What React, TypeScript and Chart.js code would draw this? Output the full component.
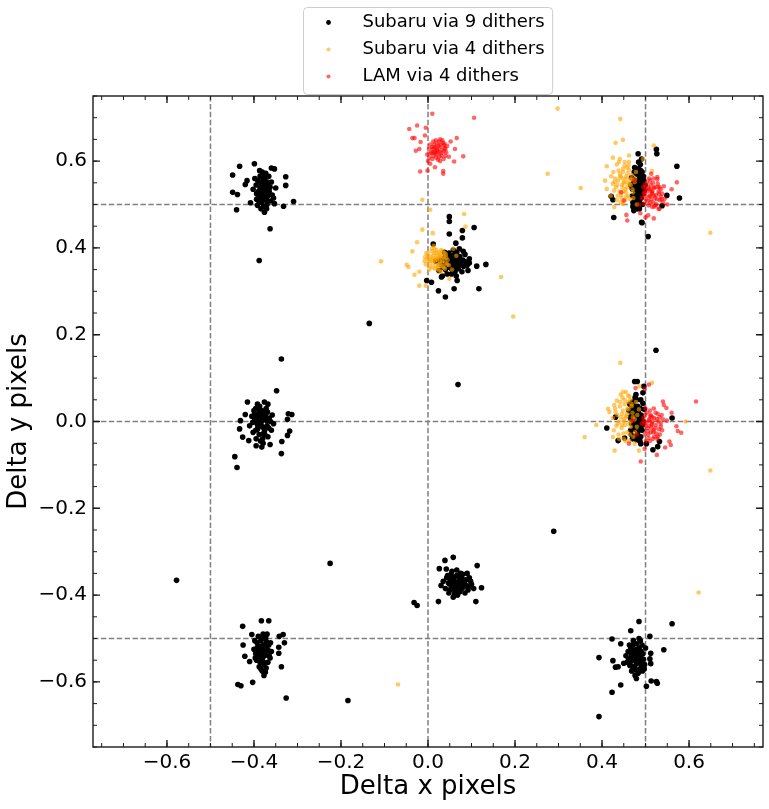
import React, { useEffect, useRef } from "react";
import { Chart, registerables } from "chart.js";

Chart.register(...registerables);

type Pt = [number, number];

// ---------- Subaru via 9 dithers (black) ----------
const s9TopLeft: Pt[] = [
  [-0.380,0.540],[-0.375,0.528],[-0.385,0.552],[-0.372,0.515],[-0.390,0.530],[-0.368,0.545],[-0.382,0.505],[-0.378,0.560],
  [-0.395,0.545],[-0.365,0.530],[-0.388,0.518],[-0.373,0.572],[-0.360,0.552],[-0.392,0.498],[-0.384,0.490],[-0.376,0.482],
  [-0.370,0.500],[-0.398,0.560],[-0.402,0.535],[-0.358,0.522],[-0.350,0.538],[-0.366,0.565],[-0.381,0.575],[-0.386,0.565],
  [-0.371,0.490],[-0.394,0.512],[-0.362,0.508],[-0.355,0.515],[-0.379,0.548],[-0.374,0.536],
  [-0.377,0.532],[-0.383,0.545],[-0.371,0.525],[-0.379,0.512],[-0.386,0.538],[-0.369,0.552],[-0.374,0.562],[-0.389,0.508],
  [-0.381,0.522],[-0.376,0.548],[-0.363,0.540],[-0.391,0.555],[-0.384,0.528],[-0.370,0.508],[-0.378,0.495],[-0.387,0.578],
  [-0.373,0.544],[-0.380,0.566],[-0.368,0.520],[-0.394,0.525],
  [-0.449,0.568],[-0.433,0.588],[-0.399,0.594],[-0.360,0.584],[-0.353,0.582],[-0.327,0.564],[-0.327,0.544],[-0.309,0.507],
  [-0.332,0.496],[-0.353,0.502],[-0.408,0.504],[-0.440,0.488],[-0.449,0.528],[-0.438,0.523],[-0.416,0.555],[-0.420,0.546],
  [-0.363,0.444],[-0.388,0.371],
];
const s9TopMid: Pt[] = [
  [0.050,0.365],[0.060,0.372],[0.042,0.358],[0.068,0.380],[0.055,0.350],[0.035,0.375],[0.075,0.362],[0.048,0.388],
  [0.062,0.345],[0.080,0.372],[0.030,0.362],[0.058,0.395],[0.070,0.352],[0.044,0.340],[0.085,0.385],[0.025,0.348],
  [0.065,0.335],[0.052,0.378],[0.038,0.390],[0.090,0.360],[0.072,0.398],[0.018,0.370],[0.058,0.360],[0.046,0.372],
  [0.078,0.345],[0.033,0.335],[0.095,0.375],[0.062,0.385],[0.040,0.350],[0.068,0.365],
  [0.053,0.368],[0.047,0.378],[0.064,0.358],[0.057,0.382],[0.070,0.372],[0.043,0.365],[0.061,0.350],[0.050,0.355],
  [0.076,0.368],[0.039,0.378],[0.066,0.390],[0.054,0.340],[0.082,0.358],[0.036,0.355],[0.059,0.375],[0.073,0.380],
  [0.045,0.385],[0.087,0.368],[0.028,0.372],[0.063,0.368],
  [0.049,0.472],[0.049,0.461],[0.049,0.432],[0.079,0.440],[0.106,0.447],[0.079,0.423],[0.064,0.411],[0.012,0.409],
  [0.081,0.392],[0.095,0.365],[0.112,0.358],[0.133,0.362],[0.117,0.306],[0.060,0.306],[0.040,0.287],[0.024,0.301],
  [0.067,0.325],[0.031,0.333],[0.008,0.321],[-0.003,0.325],[0.092,0.348],
];
const s9TopRight: Pt[] = [
  [0.483,0.540],[0.478,0.555],[0.488,0.528],[0.475,0.520],[0.492,0.548],[0.480,0.570],[0.470,0.535],[0.486,0.505],
  [0.495,0.565],[0.473,0.550],[0.490,0.515],[0.478,0.498],[0.484,0.582],[0.468,0.562],[0.497,0.532],[0.476,0.510],
  [0.489,0.578],[0.481,0.490],[0.471,0.505],[0.493,0.500],[0.479,0.528],[0.486,0.560],[0.474,0.575],[0.499,0.545],
  [0.466,0.545],[0.482,0.515],[0.488,0.592],[0.477,0.540],[0.491,0.535],[0.470,0.520],
  [0.482,0.545],[0.476,0.532],[0.487,0.552],[0.480,0.522],[0.472,0.558],[0.490,0.540],[0.485,0.568],[0.478,0.508],
  [0.494,0.525],[0.469,0.540],[0.483,0.500],[0.488,0.515],[0.475,0.585],[0.492,0.575],[0.480,0.552],[0.486,0.530],
  [0.471,0.495],[0.496,0.555],[0.478,0.538],[0.484,0.598],
  [0.483,0.617],[0.491,0.605],[0.525,0.627],[0.526,0.617],[0.572,0.588],[0.578,0.515],[0.549,0.521],[0.538,0.497],
  [0.427,0.470],[0.473,0.486],[0.486,0.490],[0.491,0.459],[0.421,0.519],[0.425,0.511],[0.506,0.426],[0.492,0.458],
];
const s9MidLeft: Pt[] = [
  [-0.385,-0.005],[-0.378,0.010],[-0.392,-0.018],[-0.370,-0.010],[-0.398,0.005],[-0.382,0.025],[-0.375,-0.030],[-0.390,0.018],
  [-0.365,0.008],[-0.402,-0.025],[-0.380,-0.040],[-0.372,0.030],[-0.395,-0.040],[-0.360,-0.020],[-0.387,0.035],[-0.368,-0.035],
  [-0.405,0.012],[-0.377,-0.015],[-0.393,-0.005],[-0.383,0.000],[-0.358,0.015],[-0.388,-0.030],[-0.373,0.020],[-0.400,0.025],
  [-0.410,-0.010],[-0.355,-0.005],[-0.379,-0.050],[-0.396,0.030],[-0.368,0.040],[-0.386,0.012],
  [-0.384,-0.008],[-0.380,0.005],[-0.389,0.010],[-0.376,-0.022],[-0.391,-0.012],[-0.371,0.002],[-0.382,0.018],[-0.396,-0.020],
  [-0.378,-0.028],[-0.387,0.025],[-0.366,-0.015],[-0.399,0.015],[-0.374,0.012],[-0.385,-0.045],[-0.392,0.040],[-0.369,0.022],
  [-0.381,-0.012],[-0.403,-0.002],[-0.362,0.000],[-0.388,0.002],
  [-0.415,0.045],[-0.376,0.045],[-0.321,0.018],[-0.313,0.016],[-0.323,0.005],[-0.433,-0.017],[-0.426,-0.036],[-0.412,-0.044],
  [-0.395,-0.056],[-0.382,-0.059],[-0.363,-0.053],[-0.336,-0.046],[-0.323,-0.032],[-0.318,-0.022],[-0.337,-0.074],[-0.431,0.002],
  [-0.420,0.016],[-0.444,-0.081],[-0.439,-0.106],[-0.337,0.144],[-0.348,0.071],
];
const s9MidRight: Pt[] = [
  [0.478,0.005],[0.472,0.020],[0.485,-0.010],[0.468,-0.005],[0.490,0.015],[0.475,0.035],[0.482,-0.025],[0.465,0.010],
  [0.495,0.000],[0.470,0.045],[0.488,0.030],[0.476,-0.035],[0.462,0.025],[0.492,-0.020],[0.480,0.050],[0.473,-0.018],
  [0.486,0.008],[0.467,-0.030],[0.497,0.028],[0.479,-0.042],[0.483,0.022],[0.471,0.002],[0.489,-0.035],[0.476,0.055],
  [0.464,0.040],[0.494,0.042],[0.481,-0.005],[0.469,0.030],[0.487,-0.045],[0.477,0.015],
  [0.479,0.008],[0.474,-0.002],[0.483,0.015],[0.470,0.018],[0.487,-0.015],[0.476,0.028],[0.481,-0.030],[0.467,0.005],
  [0.491,0.008],[0.473,0.040],[0.484,-0.040],[0.478,0.062],[0.466,-0.020],[0.489,0.050],[0.475,-0.012],[0.482,0.035],
  [0.470,-0.040],[0.493,-0.008],[0.477,0.022],[0.485,0.000],
  [0.475,0.092],[0.481,0.092],[0.496,0.081],[0.494,0.066],[0.561,0.008],[0.411,-0.015],[0.431,0.010],[0.437,-0.044],
  [0.452,-0.038],[0.502,-0.051],[0.528,-0.058],[0.517,-0.065],[0.532,-0.046],[0.489,-0.051],[0.524,0.164],
];
const s9BotLeft: Pt[] = [
  [-0.380,-0.530],[-0.375,-0.515],[-0.386,-0.545],[-0.370,-0.525],[-0.392,-0.520],[-0.378,-0.555],[-0.384,-0.505],[-0.365,-0.540],
  [-0.396,-0.535],[-0.373,-0.500],[-0.388,-0.565],[-0.362,-0.510],[-0.381,-0.575],[-0.398,-0.505],[-0.376,-0.540],[-0.368,-0.555],
  [-0.390,-0.495],[-0.383,-0.522],[-0.372,-0.568],[-0.394,-0.550],[-0.360,-0.530],[-0.379,-0.490],[-0.387,-0.535],[-0.366,-0.515],
  [-0.400,-0.525],[-0.377,-0.585],
  [-0.379,-0.528],[-0.374,-0.538],[-0.385,-0.518],[-0.382,-0.550],[-0.371,-0.508],[-0.389,-0.540],[-0.377,-0.560],[-0.367,-0.528],
  [-0.393,-0.510],[-0.381,-0.500],[-0.374,-0.578],[-0.386,-0.555],[-0.363,-0.545],[-0.397,-0.545],[-0.378,-0.515],[-0.384,-0.570],
  [-0.370,-0.490],[-0.391,-0.528],[-0.376,-0.532],[-0.380,-0.545],
  [-0.383,-0.459],[-0.366,-0.459],[-0.426,-0.472],[-0.405,-0.491],[-0.425,-0.515],[-0.421,-0.541],[-0.410,-0.553],[-0.342,-0.495],
  [-0.333,-0.491],[-0.343,-0.520],[-0.343,-0.534],[-0.330,-0.510],[-0.337,-0.565],[-0.437,-0.606],[-0.430,-0.609],[-0.403,-0.601],
  [-0.326,-0.637],[-0.374,-0.576],
];
const s9BotMid: Pt[] = [
  [0.065,-0.370],[0.058,-0.360],[0.072,-0.382],[0.050,-0.375],[0.080,-0.365],[0.045,-0.355],[0.088,-0.378],[0.062,-0.392],
  [0.075,-0.350],[0.040,-0.385],[0.095,-0.360],[0.055,-0.345],[0.068,-0.400],[0.085,-0.395],[0.035,-0.368],[0.100,-0.375],
  [0.060,-0.380],[0.078,-0.385],[0.048,-0.395],[0.070,-0.358],[0.090,-0.350],[0.052,-0.365],[0.083,-0.372],[0.042,-0.340],
  [0.105,-0.385],[0.066,-0.342],[0.058,-0.405],[0.076,-0.375],[0.030,-0.378],[0.092,-0.388],
  [0.064,-0.372],[0.059,-0.365],[0.070,-0.378],[0.055,-0.385],[0.077,-0.360],[0.047,-0.372],[0.082,-0.380],[0.066,-0.355],
  [0.053,-0.352],[0.087,-0.365],[0.061,-0.398],[0.073,-0.392],[0.043,-0.360],[0.094,-0.380],[0.068,-0.385],[0.057,-0.375],
  [0.080,-0.352],[0.050,-0.388],[0.098,-0.368],[0.072,-0.368],
  [0.039,-0.320],[0.058,-0.313],[0.113,-0.332],[0.123,-0.383],[0.110,-0.415],[0.024,-0.415],[0.026,-0.339],
];
const s9BotRight: Pt[] = [
  [0.477,-0.540],[0.470,-0.525],[0.484,-0.552],[0.465,-0.545],[0.490,-0.530],[0.475,-0.565],[0.480,-0.512],[0.460,-0.530],
  [0.495,-0.548],[0.472,-0.505],[0.487,-0.570],[0.458,-0.555],[0.482,-0.535],[0.468,-0.575],[0.492,-0.515],[0.476,-0.585],
  [0.498,-0.560],[0.463,-0.515],[0.485,-0.500],[0.473,-0.548],[0.489,-0.542],[0.455,-0.540],[0.479,-0.558],[0.493,-0.575],
  [0.467,-0.535],[0.500,-0.522],
  [0.478,-0.538],[0.473,-0.530],[0.482,-0.548],[0.468,-0.552],[0.486,-0.522],[0.476,-0.572],[0.471,-0.515],[0.490,-0.560],
  [0.480,-0.525],[0.464,-0.562],[0.488,-0.505],[0.474,-0.545],[0.483,-0.580],[0.466,-0.522],[0.494,-0.535],[0.479,-0.592],
  [0.470,-0.565],[0.461,-0.548],[0.486,-0.555],[0.497,-0.570],
  [0.485,-0.461],[0.466,-0.482],[0.561,-0.466],[0.423,-0.501],[0.510,-0.495],[0.443,-0.512],[0.542,-0.526],[0.393,-0.544],
  [0.425,-0.551],[0.431,-0.566],[0.437,-0.565],[0.450,-0.557],[0.512,-0.534],[0.510,-0.547],[0.512,-0.558],[0.513,-0.598],
  [0.527,-0.603],[0.525,-0.599],[0.502,-0.610],[0.443,-0.607],[0.423,-0.624],[0.393,-0.680],
];
const s9Strays: Pt[] = [
  [0.069,0.085],[-0.135,0.226],[0.289,-0.253],[-0.225,-0.327],[-0.578,-0.366],[-0.184,-0.643],[-0.032,-0.417],[-0.025,-0.424],
];

// ---------- Subaru via 4 dithers (orange) ----------
const s4TopMid: Pt[] = [
  [0.020,0.375],[0.012,0.382],[0.028,0.368],[0.005,0.370],[0.035,0.380],[0.018,0.360],[0.025,0.390],[0.000,0.385],
  [0.040,0.365],[0.010,0.355],[0.030,0.395],[0.015,0.398],[0.042,0.378],[-0.005,0.362],[0.022,0.352],[0.033,0.358],
  [0.008,0.392],[0.026,0.378],[0.016,0.370],[0.038,0.388],[-0.002,0.375],[0.045,0.372],[0.003,0.350],[0.030,0.345],
  [0.013,0.405],[0.024,0.362],[0.036,0.355],[0.006,0.380],[0.019,0.388],[0.048,0.360],
  [0.021,0.372],[0.017,0.378],[0.027,0.385],[0.011,0.365],[0.032,0.370],[0.014,0.388],[0.023,0.358],[0.007,0.375],
  [0.037,0.375],[0.029,0.362],[0.019,0.395],[0.004,0.358],[0.041,0.385],[0.025,0.348],[-0.004,0.388],[0.016,0.352],
  [0.034,0.392],[0.009,0.398],[0.044,0.362],[0.002,0.368],[0.028,0.378],[0.013,0.372],[0.022,0.382],[0.039,0.352],
  [-0.008,0.370],
  [-0.013,0.442],[0.011,0.434],[-0.025,0.413],[-0.036,0.392],[-0.049,0.361],[-0.045,0.356],[-0.031,0.338],[-0.020,0.313],
  [-0.005,0.313],[0.049,0.329],[0.030,0.382],[-0.007,0.379],[-0.108,0.369],[0.196,0.242],[0.168,0.333],[-0.013,0.511],
  [0.005,0.488],[0.083,0.478],[0.086,0.449],[-0.020,0.345],[0.058,0.398],[0.065,0.382],[0.055,0.350],
];
const s4TopRight: Pt[] = [
  [0.450,0.550],[0.442,0.562],[0.458,0.540],[0.435,0.545],[0.465,0.558],[0.448,0.575],[0.455,0.528],[0.430,0.560],
  [0.470,0.535],[0.440,0.530],[0.462,0.580],[0.452,0.590],[0.425,0.548],[0.475,0.552],[0.445,0.515],[0.460,0.520],
  [0.438,0.578],[0.468,0.568],[0.428,0.532],[0.456,0.565],[0.447,0.540],[0.434,0.592],[0.472,0.515],[0.443,0.505],
  [0.462,0.598],[0.421,0.565],[0.453,0.510],[0.478,0.575],[0.436,0.520],[0.466,0.545],[0.449,0.560],[0.457,0.585],
  [0.451,0.552],[0.446,0.545],[0.457,0.560],[0.441,0.570],[0.463,0.548],[0.437,0.555],[0.454,0.535],[0.448,0.582],
  [0.468,0.558],[0.432,0.540],[0.459,0.572],[0.444,0.522],[0.471,0.528],[0.426,0.575],[0.452,0.598],[0.439,0.598],
  [0.464,0.512],[0.449,0.530],[0.476,0.560],[0.434,0.510],[0.458,0.550],[0.443,0.565],[0.461,0.590],[0.429,0.552],
  [0.455,0.518],
  [0.431,0.642],[0.448,0.649],[0.462,0.613],[0.441,0.605],[0.425,0.608],[0.411,0.588],[0.407,0.555],[0.411,0.536],
  [0.428,0.494],[0.448,0.501],[0.494,0.605],[0.515,0.577],[0.519,0.636],[0.442,0.697],[0.351,0.538],[0.649,0.435],
  [0.298,0.721],[0.275,0.571],[0.480,0.500],[0.420,0.520],
];
const s4MidRight: Pt[] = [
  [0.455,0.010],[0.448,0.025],[0.462,-0.005],[0.440,0.000],[0.470,0.020],[0.452,0.040],[0.458,-0.025],[0.435,0.015],
  [0.475,0.005],[0.445,-0.015],[0.465,0.050],[0.430,0.030],[0.480,-0.012],[0.450,-0.040],[0.468,0.035],[0.438,-0.030],
  [0.460,0.060],[0.425,0.008],[0.485,0.028],[0.447,0.055],[0.472,-0.035],[0.442,0.045],[0.457,0.018],[0.433,-0.010],
  [0.466,0.000],[0.453,-0.008],[0.428,0.038],[0.478,0.045],[0.444,0.010],[0.463,-0.045],
  [0.456,0.012],[0.451,0.000],[0.461,0.028],[0.446,0.018],[0.466,-0.012],[0.441,0.035],[0.459,0.045],[0.449,-0.028],
  [0.471,0.010],[0.436,-0.005],[0.463,0.058],[0.454,-0.045],[0.443,0.062],[0.476,-0.025],[0.431,0.022],[0.468,0.040],
  [0.446,-0.008],[0.458,0.030],[0.427,-0.020],[0.481,0.015],[0.452,0.050],[0.439,-0.040],[0.464,-0.030],[0.434,0.048],
  [0.450,0.005],
  [0.448,0.068],[0.455,0.068],[0.414,0.029],[0.417,0.022],[0.425,-0.036],[0.429,-0.067],[0.485,-0.067],[0.475,-0.051],
  [0.387,-0.008],[0.515,0.089],[0.486,0.081],[0.442,0.135],[0.360,-0.036],[0.649,-0.113],[0.592,0.000],
];
const s4Strays: Pt[] = [[0.622,-0.394],[-0.069,-0.606]];

// ---------- LAM via 4 dithers (red) ----------
const lamTopMid: Pt[] = [
  [0.022,0.624],[0.015,0.632],[0.030,0.618],[0.008,0.620],[0.038,0.630],[0.020,0.640],[0.026,0.610],[0.002,0.628],
  [0.034,0.642],[0.012,0.612],[0.042,0.620],[0.018,0.648],[0.028,0.600],[0.005,0.638],[0.036,0.605],[0.024,0.635],
  [0.010,0.605],[0.040,0.612],[0.016,0.622],[0.032,0.626],[-0.002,0.615],[0.044,0.635],[0.020,0.615],[0.028,0.650],
  [0.012,0.645],[0.000,0.600],
  [0.021,0.626],[0.017,0.618],[0.027,0.632],[0.011,0.628],[0.031,0.612],[0.019,0.608],[0.025,0.645],[0.006,0.618],
  [0.036,0.622],[0.014,0.638],[0.029,0.638],[0.023,0.603],[0.003,0.608],[0.040,0.628],[0.013,0.620],[0.033,0.648],
  [0.009,0.632],[0.026,0.620],[0.018,0.630],[0.038,0.640],
  [0.010,0.709],[0.106,0.700],[-0.025,0.682],[-0.005,0.677],[-0.043,0.674],[-0.036,0.653],[-0.031,0.653],[-0.007,0.659],
  [-0.017,0.644],[-0.028,0.624],[-0.020,0.628],[0.066,0.653],[0.062,0.628],[0.081,0.611],[0.060,0.599],[0.037,0.636],
  [0.035,0.577],[0.035,0.571],[0.016,0.586],[-0.001,0.578],[-0.018,0.576],[0.005,0.594],[0.052,0.645],[0.048,0.610],
];
const lamTopRight: Pt[] = [
  [0.515,0.525],[0.508,0.535],[0.522,0.515],[0.500,0.520],[0.530,0.530],[0.512,0.545],[0.518,0.505],[0.495,0.540],
  [0.528,0.548],[0.505,0.508],[0.535,0.518],[0.510,0.555],[0.520,0.495],[0.498,0.528],[0.532,0.540],[0.525,0.500],
  [0.503,0.550],[0.538,0.525],[0.513,0.512],[0.520,0.538],[0.492,0.515],[0.527,0.558],[0.507,0.498],[0.516,0.530],
  [0.540,0.505],[0.497,0.502],[0.524,0.522],[0.510,0.520],[0.533,0.510],[0.502,0.535],[0.518,0.560],[0.530,0.490],
  [0.514,0.528],[0.509,0.518],[0.520,0.540],[0.504,0.530],[0.526,0.512],[0.511,0.505],[0.517,0.550],[0.499,0.545],
  [0.531,0.525],[0.506,0.540],[0.523,0.498],[0.512,0.535],[0.535,0.535],[0.501,0.512],[0.519,0.520],[0.528,0.540],
  [0.496,0.525],[0.515,0.495],[0.537,0.512],[0.508,0.560],
  [0.572,0.551],[0.527,0.563],[0.542,0.542],[0.456,0.476],[0.458,0.463],[0.506,0.475],[0.519,0.468],[0.513,0.571],
  [0.475,0.555],[0.444,0.528],[0.450,0.509],[0.532,0.490],[0.544,0.513],[0.560,0.535],[0.488,0.480],[0.500,0.470],
  [0.485,0.500],[0.550,0.500],
];
const lamMidRight: Pt[] = [
  [0.515,-0.005],[0.508,0.005],[0.522,-0.015],[0.500,-0.010],[0.530,0.000],[0.512,0.015],[0.518,-0.025],[0.495,0.008],
  [0.528,0.018],[0.505,-0.022],[0.535,-0.012],[0.510,0.025],[0.520,-0.035],[0.498,-0.030],[0.532,0.010],[0.525,-0.028],
  [0.503,0.020],[0.538,-0.020],[0.513,-0.015],[0.520,0.008],[0.492,-0.005],[0.527,-0.040],[0.507,-0.038],[0.516,0.000],
  [0.540,0.005],[0.500,0.030],[0.524,-0.008],[0.510,-0.045],[0.533,-0.030],[0.502,-0.002],
  [0.514,-0.008],[0.509,0.002],[0.519,-0.020],[0.504,-0.015],[0.526,0.005],[0.511,0.012],[0.517,-0.040],[0.499,0.015],
  [0.531,-0.018],[0.506,-0.030],[0.523,0.020],[0.512,-0.025],[0.535,-0.005],[0.501,-0.045],[0.519,0.030],[0.528,-0.035],
  [0.496,0.000],[0.515,0.010],[0.537,0.015],[0.508,-0.010],
  [0.616,0.046],[0.540,0.046],[0.542,0.038],[0.548,0.031],[0.571,-0.011],[0.574,-0.022],[0.582,-0.026],[0.555,-0.046],
  [0.558,-0.054],[0.526,-0.077],[0.489,-0.092],[0.462,-0.051],[0.498,-0.063],[0.477,0.077],[0.498,0.075],[0.508,0.085],
  [0.471,0.002],[0.549,0.002],[0.560,0.020],[0.480,-0.030],[0.545,-0.060],
];

const seriesLabels = ["Subaru via 9 dithers", "Subaru via 4 dithers", "LAM via 4 dithers"];
const subaru9 = [...s9TopLeft, ...s9TopMid, ...s9TopRight, ...s9MidLeft, ...s9MidRight, ...s9BotLeft, ...s9BotMid, ...s9BotRight, ...s9Strays];
const subaru4 = [...s4TopMid, ...s4TopRight, ...s4MidRight, ...s4Strays];
const lam4 = [...lamTopMid, ...lamTopRight, ...lamMidRight];

const xRange = [-0.77, 0.77];
const yRange = [-0.75, 0.75];
const guideX = [-0.5, 0, 0.5];
const guideY = [-0.5, 0, 0.5];
const majorStep = 0.2;
const minorStep = 0.05;

const FONT = "'DejaVu Sans', sans-serif";
const fmt = (v: number) => (Math.abs(v) < 1e-9 ? "0.0" : v.toFixed(1).replace("-", "\u2212"));
const toXY = (arr: Pt[]) => arr.map(([x, y]) => ({ x, y }));

const decorPlugin = {
  id: "decor",
  beforeDatasetsDraw(chart: any) {
    const { ctx, chartArea: a, scales } = chart;
    const xs = scales.x, ys = scales.y;
    ctx.save();
    ctx.beginPath();
    ctx.rect(a.left, a.top, a.right - a.left, a.bottom - a.top);
    ctx.clip();
    ctx.strokeStyle = "#808080";
    ctx.lineWidth = 1.5;
    ctx.setLineDash([5.5, 2.4]);
    for (const v of guideX) {
      const p = xs.getPixelForValue(v);
      ctx.beginPath(); ctx.moveTo(p, a.top); ctx.lineTo(p, a.bottom); ctx.stroke();
    }
    for (const v of guideY) {
      const p = ys.getPixelForValue(v);
      ctx.beginPath(); ctx.moveTo(a.left, p); ctx.lineTo(a.right, p); ctx.stroke();
    }
    ctx.restore();
  },
  afterDatasetsDraw(chart: any) {
    const { ctx, chartArea: a, scales } = chart;
    const xs = scales.x, ys = scales.y;
    ctx.save();
    ctx.strokeStyle = "#1a1a1a";
    ctx.lineWidth = 1;
    const minors = (min: number, max: number) => {
      const out: number[] = [];
      for (let k = Math.ceil(min / minorStep - 1e-9); k <= Math.floor(max / minorStep + 1e-9); k++) out.push(k * minorStep);
      return out;
    };
    for (const v of minors(xs.min, xs.max)) {
      const p = xs.getPixelForValue(v);
      ctx.beginPath();
      ctx.moveTo(p, a.bottom); ctx.lineTo(p, a.bottom - 4);
      ctx.moveTo(p, a.top); ctx.lineTo(p, a.top + 4);
      ctx.stroke();
    }
    for (const v of minors(ys.min, ys.max)) {
      const p = ys.getPixelForValue(v);
      ctx.beginPath();
      ctx.moveTo(a.left, p); ctx.lineTo(a.left + 4, p);
      ctx.moveTo(a.right, p); ctx.lineTo(a.right - 4, p);
      ctx.stroke();
    }
    ctx.lineWidth = 1.4;
    for (const t of xs.ticks) {
      const p = xs.getPixelForValue(t.value);
      ctx.beginPath();
      ctx.moveTo(p, a.bottom); ctx.lineTo(p, a.bottom - 7);
      ctx.moveTo(p, a.top); ctx.lineTo(p, a.top + 7);
      ctx.stroke();
    }
    for (const t of ys.ticks) {
      const p = ys.getPixelForValue(t.value);
      ctx.beginPath();
      ctx.moveTo(a.left, p); ctx.lineTo(a.left + 7, p);
      ctx.moveTo(a.right, p); ctx.lineTo(a.right - 7, p);
      ctx.stroke();
    }
    ctx.lineWidth = 1.4;
    ctx.strokeRect(a.left, a.top, a.right - a.left, a.bottom - a.top);
    ctx.restore();
  },
  afterDraw(chart: any) {
    const { ctx, chartArea: a } = chart;
    const ds = chart.data.datasets;
    ctx.save();
    ctx.font = `18px ${FONT}`;
    const maxW = Math.max(...ds.map((d: any) => ctx.measureText(d.label).width));
    const w = 67 + maxW;
    const h = 87;
    const cx = (a.left + a.right) / 2;
    const left = Math.round(cx - w / 2) + 0.5;
    const top = 7.5;
    const r = 4;
    ctx.beginPath();
    ctx.moveTo(left + r, top);
    ctx.lineTo(left + w - r, top);
    ctx.arcTo(left + w, top, left + w, top + r, r);
    ctx.lineTo(left + w, top + h - r);
    ctx.arcTo(left + w, top + h, left + w - r, top + h, r);
    ctx.lineTo(left + r, top + h);
    ctx.arcTo(left, top + h, left, top + h - r, r);
    ctx.lineTo(left, top + r);
    ctx.arcTo(left, top, left + r, top, r);
    ctx.closePath();
    ctx.fillStyle = "rgba(255,255,255,0.8)";
    ctx.fill();
    ctx.strokeStyle = "#cccccc";
    ctx.lineWidth = 1;
    ctx.stroke();
    const radii = [2.4, 2, 2];
    ds.forEach((d: any, i: number) => {
      const y = top + 15 + i * 27;
      ctx.beginPath();
      ctx.arc(left + 25, y, radii[i], 0, Math.PI * 2);
      ctx.fillStyle = d.backgroundColor;
      ctx.fill();
      ctx.fillStyle = "#000";
      ctx.textBaseline = "middle";
      ctx.textAlign = "left";
      ctx.fillText(d.label, left + 59, y);
    });
    ctx.restore();
  },
};

export default function App() {
  const ref = useRef<HTMLCanvasElement | null>(null);
  useEffect(() => {
    if (!ref.current) return;
    const chart = new Chart(ref.current, {
      type: "scatter",
      data: {
        datasets: [
          { label: seriesLabels[0], data: toXY(subaru9), backgroundColor: "#000000", borderWidth: 0, pointRadius: 2.8, order: 3 },
          { label: seriesLabels[1], data: toXY(subaru4), backgroundColor: "rgba(255,165,0,0.6)", borderWidth: 0, pointRadius: 2.3, order: 2 },
          { label: seriesLabels[2], data: toXY(lam4), backgroundColor: "rgba(255,0,0,0.6)", borderWidth: 0, pointRadius: 2.3, order: 1 },
        ],
      },
      options: {
        responsive: false,
        animation: false,
        events: [],
        layout: { padding: { top: 96, right: 6, left: 0, bottom: 0 } },
        plugins: { legend: { display: false }, tooltip: { enabled: false } },
        scales: {
          x: {
            type: "linear",
            min: xRange[0],
            max: xRange[1],
            grid: { display: false, drawTicks: false },
            border: { display: false },
            ticks: { stepSize: majorStep, includeBounds: false, padding: 4, color: "#000", font: { family: FONT, size: 20 }, callback: (v: any) => fmt(Number(v)), maxRotation: 0 },
            title: { display: true, text: "Delta x pixels", color: "#000", font: { family: FONT, size: 26 }, padding: { top: 0, bottom: 6 } },
            afterFit: (s: any) => { s.height = 62; },
          },
          y: {
            type: "linear",
            min: yRange[0],
            max: yRange[1],
            grid: { display: false, drawTicks: false },
            border: { display: false },
            ticks: { stepSize: majorStep, includeBounds: false, padding: 6, color: "#000", font: { family: FONT, size: 20 }, callback: (v: any) => fmt(Number(v)) },
            title: { display: true, text: "Delta y pixels", color: "#000", font: { family: FONT, size: 26 }, padding: { top: 4, bottom: 0 } },
            afterFit: (s: any) => { s.width = 93; },
          },
        },
      },
      plugins: [decorPlugin],
    } as any);
    return () => chart.destroy();
  }, []);
  return (
    <div style={{ position: "fixed", left: 0, top: 0, width: 769, height: 809, background: "#fff" }}>
      <canvas ref={ref} width={769} height={809} style={{ display: "block" }} />
    </div>
  );
}
